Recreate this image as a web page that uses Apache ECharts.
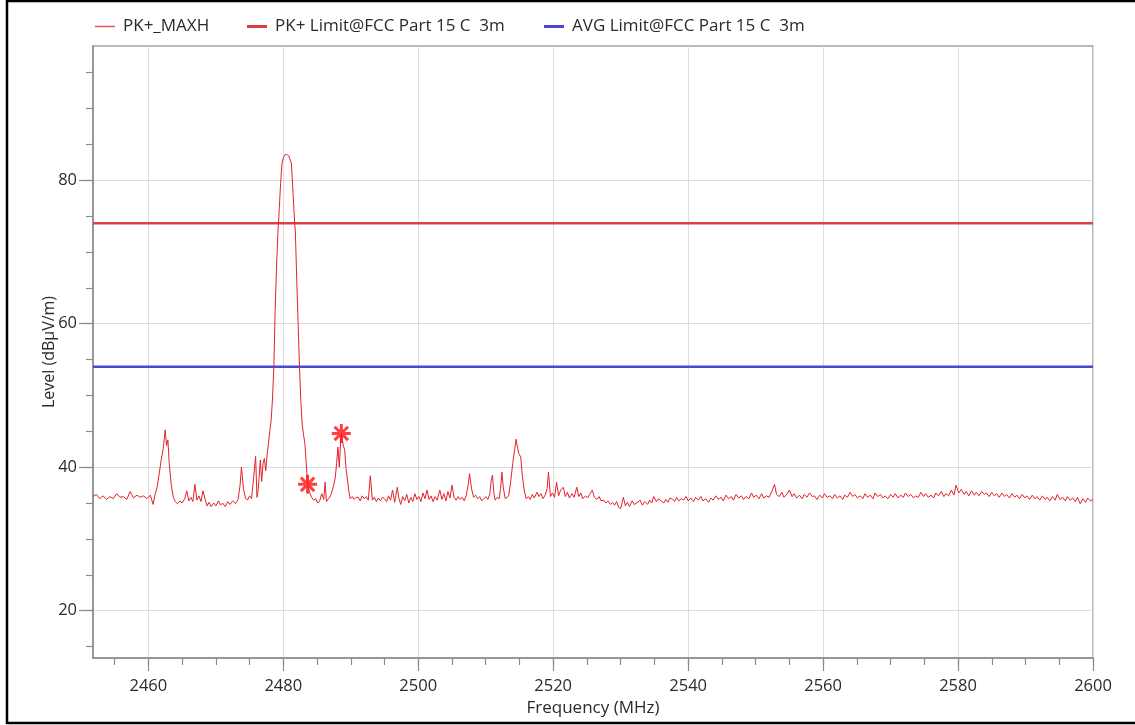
<!DOCTYPE html>
<html>
<head>
<meta charset="utf-8">
<title>PK+ MAXH Radiated Emission</title>
<script src="https://cdn.jsdelivr.net/npm/echarts@6/dist/echarts.min.js"></script>
<style>
  html, body { margin: 0; padding: 0; background: #fff; }
  #chart { width: 1135px; height: 725px; }
</style>
</head>
<body>
<div id="chart"></div>
<script>
// Frequency span (MHz) and level span (dBuV/m)
const freqMin = 2451.8;
const freqMax = 2600;
const levelMin = 13.4;
const levelMax = 98.7;

// Tick positions
const freqMajorTicks = [2460, 2480, 2500, 2520, 2540, 2560, 2580, 2600];
const freqMinorTicks = [2455, 2460, 2465, 2470, 2475, 2480, 2485, 2490, 2495, 2500, 2505, 2510, 2515, 2520, 2525, 2530, 2535, 2540, 2545, 2550, 2555, 2560, 2565, 2570, 2575, 2580, 2585, 2590, 2595, 2600];
const levelMajorTicks = [20, 40, 60, 80];
const levelMinorTicks = [15, 20, 25, 30, 35, 40, 45, 50, 55, 60, 65, 70, 75, 80, 85, 90, 95];

// Limits
const pkLimit = 74;
const avgLimit = 54;

// Series names
const traceName = 'PK+_MAXH';
const pkLimitName = 'PK+ Limit@FCC Part 15 C  3m';
const avgLimitName = 'AVG Limit@FCC Part 15 C  3m';

// Marked emissions [MHz, dBuV/m]
const markers = [[2483.6, 37.6], [2488.6, 44.7]];

// Peak max-hold trace [MHz, dBuV/m]
const maxHoldTrace = [
  [2451.8,35.9],[2452.3,36.2],[2452.8,35.6],[2453.3,36.0],[2453.8,35.5],[2454.3,35.9],[2454.8,35.6],[2455.3,36.3],
  [2455.8,35.8],[2456.3,35.9],[2456.8,35.5],[2457.3,36.6],[2457.8,35.7],[2458.3,36.1],[2458.8,35.8],[2459.3,36.0],
  [2459.8,35.6],[2460.3,36.1],[2460.7,34.8],[2461.0,36.2],[2461.3,37.2],[2461.6,39.0],[2461.9,41.0],[2462.2,42.5],
  [2462.5,45.2],[2462.7,43.0],[2462.9,43.8],[2463.1,40.5],[2463.4,37.5],[2463.7,35.8],[2464.0,35.2],[2464.3,34.9],
  [2464.7,35.3],[2465.0,35.0],[2465.4,35.6],[2465.7,36.7],[2466.0,35.3],[2466.3,35.8],[2466.6,35.2],[2466.9,37.6],
  [2467.2,35.4],[2467.5,36.0],[2467.8,35.2],[2468.1,36.7],[2468.4,35.6],[2468.7,34.6],[2469.0,35.1],[2469.3,34.5],
  [2469.7,35.0],[2470.0,34.6],[2470.4,35.3],[2470.7,34.7],[2471.0,35.0],[2471.4,34.5],[2471.8,35.2],[2472.1,34.8],
  [2472.5,35.3],[2472.9,34.9],[2473.3,35.5],[2473.6,37.5],[2473.8,40.0],[2474.1,37.0],[2474.4,35.7],[2474.7,35.4],
  [2475.0,36.0],[2475.3,35.6],[2475.6,38.5],[2475.9,41.5],[2476.1,35.8],[2476.3,37.0],[2476.6,41.0],[2476.8,38.0],
  [2477.0,40.5],[2477.2,41.2],[2477.4,39.5],[2477.6,41.7],[2477.8,43.3],[2478.0,45.0],[2478.2,46.5],[2478.4,49.5],
  [2478.6,54.0],[2478.8,62.0],[2479.0,68.0],[2479.2,72.5],[2479.4,76.0],[2479.6,79.5],[2479.8,82.3],[2480.0,83.1],
  [2480.2,83.5],[2480.5,83.6],[2480.8,83.4],[2481.0,83.3],[2481.2,82.4],[2481.4,79.0],[2481.6,75.5],[2481.8,72.5],
  [2482.0,66.0],[2482.2,60.0],[2482.4,54.0],[2482.6,49.3],[2482.8,46.0],[2483.0,44.5],[2483.2,43.3],[2483.4,40.5],
  [2483.6,37.6],[2483.9,36.5],[2484.2,35.8],[2484.5,35.4],[2484.8,35.6],[2485.1,35.0],[2485.4,35.3],[2485.7,36.3],
  [2486.0,35.5],[2486.2,37.9],[2486.4,35.2],[2486.7,35.6],[2487.0,36.0],[2487.4,37.2],[2487.7,38.5],[2487.9,40.5],
  [2488.1,42.8],[2488.3,40.0],[2488.5,43.5],[2488.6,44.7],[2488.9,43.0],[2489.1,42.4],[2489.3,39.8],[2489.5,39.6],
  [2489.7,36.8],[2489.9,35.6],[2490.2,35.9],[2490.5,35.5],[2490.8,35.8],[2491.1,35.8],[2491.4,35.3],[2491.7,36.0],
  [2492.0,35.6],[2492.3,35.9],[2492.6,35.4],[2492.9,38.8],[2493.2,35.4],[2493.5,35.8],[2493.8,35.2],[2494.1,35.7],
  [2494.4,35.3],[2494.7,35.8],[2495.0,35.6],[2495.3,35.2],[2495.6,36.0],[2495.9,35.4],[2496.2,36.8],[2496.5,35.1],
  [2496.9,37.2],[2497.1,35.8],[2497.4,34.8],[2497.7,35.9],[2498.0,35.3],[2498.3,36.2],[2498.6,35.0],[2498.9,35.8],
  [2499.2,35.2],[2499.5,36.3],[2499.8,35.5],[2500.1,35.9],[2500.4,35.2],[2500.7,36.4],[2501.0,35.6],[2501.3,36.8],
  [2501.6,35.5],[2501.9,36.0],[2502.2,35.2],[2502.5,35.9],[2502.8,35.4],[2503.2,36.8],[2503.5,35.5],[2503.8,36.3],
  [2504.1,35.3],[2504.4,36.6],[2504.7,35.7],[2505.0,37.5],[2505.3,35.8],[2505.6,35.4],[2505.9,35.9],[2506.2,35.5],
  [2506.5,35.8],[2506.8,35.3],[2507.1,36.0],[2507.4,37.5],[2507.6,39.1],[2507.9,37.0],[2508.2,35.8],[2508.5,36.1],
  [2508.8,35.6],[2509.1,35.9],[2509.4,35.3],[2509.7,35.6],[2510.0,35.9],[2510.3,35.5],[2510.6,36.2],[2510.8,38.0],
  [2511.0,38.9],[2511.2,36.5],[2511.4,35.4],[2511.7,35.8],[2512.0,35.6],[2512.2,37.0],[2512.4,39.3],[2512.6,37.2],
  [2512.9,35.6],[2513.1,35.4],[2513.4,36.0],[2513.7,38.0],[2514.0,40.5],[2514.3,42.5],[2514.5,43.9],[2514.7,42.8],
  [2514.9,41.9],[2515.2,41.4],[2515.4,39.0],[2515.7,36.8],[2516.0,35.6],[2516.3,35.9],[2516.6,35.5],[2516.9,36.2],
  [2517.2,35.7],[2517.6,36.5],[2517.9,35.9],[2518.2,36.3],[2518.5,35.6],[2518.8,36.1],[2519.1,37.0],[2519.3,39.3],
  [2519.6,35.9],[2519.9,36.4],[2520.2,35.8],[2520.5,37.9],[2520.8,36.0],[2521.1,36.8],[2521.5,37.2],[2521.8,35.9],
  [2522.1,36.5],[2522.4,35.7],[2522.8,36.3],[2523.1,35.8],[2523.5,37.2],[2523.8,35.9],[2524.1,36.4],[2524.4,35.6],
  [2524.8,36.0],[2525.1,35.7],[2525.4,36.2],[2525.8,36.8],[2526.1,35.8],[2526.5,35.5],[2526.8,35.9],[2527.1,35.3],
  [2527.5,35.4],[2527.8,35.0],[2528.1,35.3],[2528.5,34.8],[2528.8,35.1],[2529.1,34.7],[2529.4,35.2],[2529.7,34.4],
  [2530.0,34.2],[2530.4,35.8],[2530.7,34.6],[2531.0,35.1],[2531.3,34.5],[2531.7,35.3],[2532.0,34.8],[2532.4,35.0],
  [2532.9,35.4],[2533.2,34.7],[2533.6,35.2],[2534.0,34.8],[2534.3,35.4],[2534.6,35.0],[2534.9,35.9],[2535.3,35.2],
  [2535.6,35.6],[2536.0,35.3],[2536.4,35.0],[2536.7,35.5],[2537.0,35.1],[2537.3,35.7],[2537.6,35.6],[2538.0,35.2],
  [2538.3,35.8],[2538.6,35.3],[2539.0,35.6],[2539.3,35.4],[2539.7,35.9],[2540.0,35.3],[2540.4,35.7],[2540.8,35.2],
  [2541.1,35.8],[2541.5,35.4],[2541.9,35.9],[2542.2,35.3],[2542.6,35.6],[2543.0,35.1],[2543.4,35.7],[2543.7,35.4],
  [2544.1,36.0],[2544.5,35.5],[2544.9,35.8],[2545.2,35.3],[2545.6,36.1],[2546.0,35.6],[2546.4,35.9],[2546.7,35.4],
  [2547.1,36.2],[2547.5,35.7],[2547.9,36.0],[2548.2,35.5],[2548.6,35.9],[2549.0,35.6],[2549.4,36.4],[2549.7,35.8],
  [2550.1,36.1],[2550.5,35.6],[2550.9,36.3],[2551.2,35.7],[2551.6,36.0],[2552.0,35.8],[2552.4,36.6],[2552.8,37.6],
  [2553.1,36.2],[2553.5,35.9],[2553.9,36.5],[2554.2,35.8],[2554.6,36.2],[2555.0,36.8],[2555.4,35.9],[2555.7,36.3],
  [2556.1,35.7],[2556.5,36.1],[2556.9,35.6],[2557.2,36.2],[2557.6,35.8],[2558.0,36.4],[2558.4,35.9],[2558.7,36.0],
  [2559.1,35.5],[2559.5,36.1],[2559.9,35.7],[2560.2,36.3],[2560.6,35.8],[2561.0,36.0],[2561.4,35.6],[2561.7,36.2],
  [2562.1,35.7],[2562.5,36.0],[2562.9,35.5],[2563.2,36.1],[2563.6,35.8],[2564.0,36.5],[2564.4,35.9],[2564.7,36.2],
  [2565.1,35.7],[2565.5,36.0],[2565.9,35.6],[2566.2,36.3],[2566.6,35.8],[2567.0,36.1],[2567.4,35.6],[2567.7,36.4],
  [2568.1,35.9],[2568.5,36.2],[2568.9,35.7],[2569.2,36.0],[2569.6,35.6],[2570.0,36.2],[2570.4,35.8],[2570.7,36.3],
  [2571.1,35.7],[2571.5,36.1],[2571.9,35.8],[2572.2,36.4],[2572.6,35.9],[2573.0,36.2],[2573.4,35.7],[2573.7,36.0],
  [2574.1,35.8],[2574.5,36.5],[2574.9,35.9],[2575.2,36.3],[2575.6,35.8],[2576.0,36.1],[2576.4,35.7],[2576.7,36.4],
  [2577.1,36.0],[2577.5,36.6],[2577.9,35.9],[2578.2,36.3],[2578.6,36.0],[2579.0,36.8],[2579.4,36.1],[2579.7,37.5],
  [2580.1,36.4],[2580.5,36.9],[2580.9,36.2],[2581.2,36.6],[2581.6,36.0],[2582.0,36.7],[2582.4,36.1],[2582.7,36.5],
  [2583.1,36.0],[2583.5,36.6],[2583.9,36.2],[2584.2,36.4],[2584.6,35.9],[2585.0,36.5],[2585.4,36.0],[2585.7,36.3],
  [2586.1,35.8],[2586.5,36.4],[2586.9,35.9],[2587.2,36.2],[2587.6,35.7],[2588.0,36.3],[2588.4,35.8],[2588.7,36.1],
  [2589.1,35.6],[2589.5,36.2],[2589.9,35.7],[2590.2,36.0],[2590.6,35.5],[2591.0,36.1],[2591.4,35.6],[2591.7,35.9],
  [2592.1,35.4],[2592.5,36.0],[2592.9,35.5],[2593.2,35.8],[2593.6,35.3],[2594.0,35.9],[2594.4,35.4],[2594.7,36.2],
  [2595.1,35.5],[2595.5,35.8],[2595.9,35.3],[2596.2,35.9],[2596.6,35.4],[2597.0,35.7],[2597.4,35.2],[2597.7,35.8],
  [2598.1,34.9],[2598.5,35.6],[2598.9,35.1],[2599.2,35.7],[2599.6,35.3],[2600.0,35.5]
];

const FONT = '"Open Sans", "Noto Sans", sans-serif';
const TEXT_COLOR = '#2b2b2b';
const AXIS_COLOR = '#8c8c8c';
const GRID_COLOR = '#dcdcdc';
const TRACE_COLOR = '#e3232d';
const PK_COLOR = '#dc4047';
const AVG_COLOR = '#4b47cc';

// Eight-armed star used for the marked emissions
const starPath = 'path://M0,-8L0,8M-8,0L8,0M-5.66,-5.66L5.66,5.66M-5.66,5.66L5.66,-5.66';

function plainNumber(v) { return String(v); }

function legendAt(left, name, height, color) {
  return {
    left: left, top: 18, padding: 0,
    data: [name],
    icon: 'rect',
    itemWidth: 20, itemHeight: height,
    itemGap: 0,
    itemStyle: { color: color },
    selectedMode: false,
    textStyle: { fontFamily: FONT, fontSize: 17, color: TEXT_COLOR, padding: [0, 0, 0, 3] }
  };
}

const chart = echarts.init(document.getElementById('chart'), null, { renderer: 'canvas' });

chart.setOption({
  animation: false,
  backgroundColor: '#ffffff',
  textStyle: { fontFamily: FONT },
  graphic: [{
    type: 'polyline',
    shape: { points: [[1140, 1], [7, 1], [7, 723], [1140, 723]] },
    style: { stroke: '#000', lineWidth: 2.5, fill: null },
    silent: true, z: 100
  }],
  legend: [
    legendAt(95, traceName, 1.5, '#e8505a'),
    legendAt(247, pkLimitName, 3, PK_COLOR),
    legendAt(544, avgLimitName, 3, AVG_COLOR)
  ],
  grid: {
    left: 93, right: 42, top: 46, bottom: 67,
    show: true, borderColor: '#a3a3a3', borderWidth: 1.5, backgroundColor: '#fff'
  },
  xAxis: [{
    type: 'value', min: freqMin, max: freqMax, position: 'bottom',
    axisLine: { show: true, lineStyle: { color: AXIS_COLOR, width: 1.5 } },
    axisTick: { show: true, customValues: freqMinorTicks, length: 7, lineStyle: { color: AXIS_COLOR, width: 1.2 } },
    axisLabel: { show: false },
    splitLine: { show: false }
  }, {
    type: 'value', min: freqMin, max: freqMax, position: 'bottom',
    axisLine: { show: false },
    axisTick: { show: true, customValues: freqMajorTicks, length: 13, lineStyle: { color: AXIS_COLOR, width: 1.2 } },
    axisLabel: { show: true, customValues: freqMajorTicks, formatter: plainNumber, margin: 20,
                 color: TEXT_COLOR, fontSize: 16.5, fontFamily: FONT },
    splitLine: { show: true, lineStyle: { color: GRID_COLOR, width: 1 } },
    name: 'Frequency (MHz)', nameLocation: 'middle', nameGap: 41,
    nameTextStyle: { color: TEXT_COLOR, fontSize: 17, fontFamily: FONT }
  }],
  yAxis: [{
    type: 'value', min: levelMin, max: levelMax, position: 'left',
    axisLine: { show: true, lineStyle: { color: AXIS_COLOR, width: 1.5 } },
    axisTick: { show: true, customValues: levelMinorTicks, length: 7, lineStyle: { color: AXIS_COLOR, width: 1.2 } },
    axisLabel: { show: false },
    splitLine: { show: false }
  }, {
    type: 'value', min: levelMin, max: levelMax, position: 'left', offset: 0,
    axisLine: { show: false },
    axisTick: { show: true, customValues: levelMajorTicks, length: 14, lineStyle: { color: AXIS_COLOR, width: 1.2 } },
    axisLabel: { show: true, customValues: levelMajorTicks, formatter: plainNumber, margin: 16,
                 color: TEXT_COLOR, fontSize: 16.5, fontFamily: FONT },
    splitLine: { show: true, lineStyle: { color: GRID_COLOR, width: 1 } },
    name: 'Level (dBµV/m)', nameLocation: 'middle', nameGap: 36, nameMoveOverlap: false,
    nameTextStyle: { color: TEXT_COLOR, fontSize: 16, fontFamily: FONT }
  }],
  series: [{
    name: pkLimitName, type: 'line', xAxisIndex: 0, yAxisIndex: 0,
    data: [[freqMin, pkLimit], [freqMax, pkLimit]],
    showSymbol: false, color: PK_COLOR,
    lineStyle: { color: PK_COLOR, width: 2.5 }, z: 2, silent: true
  }, {
    name: avgLimitName, type: 'line', xAxisIndex: 0, yAxisIndex: 0,
    data: [[freqMin, avgLimit], [freqMax, avgLimit]],
    showSymbol: false, color: AVG_COLOR,
    lineStyle: { color: AVG_COLOR, width: 2.5 }, z: 2, silent: true
  }, {
    name: traceName, type: 'line', xAxisIndex: 0, yAxisIndex: 0,
    data: maxHoldTrace,
    showSymbol: false, color: TRACE_COLOR,
    lineStyle: { color: TRACE_COLOR, width: 1 }, z: 3, silent: true
  }, {
    name: 'Markers', type: 'scatter', xAxisIndex: 0, yAxisIndex: 0,
    data: markers,
    symbol: starPath, symbolSize: 19,
    itemStyle: { color: 'rgba(0,0,0,0)', borderColor: '#ff1010', borderWidth: 3 },
    z: 4, silent: true
  }]
});
</script>
</body>
</html>
